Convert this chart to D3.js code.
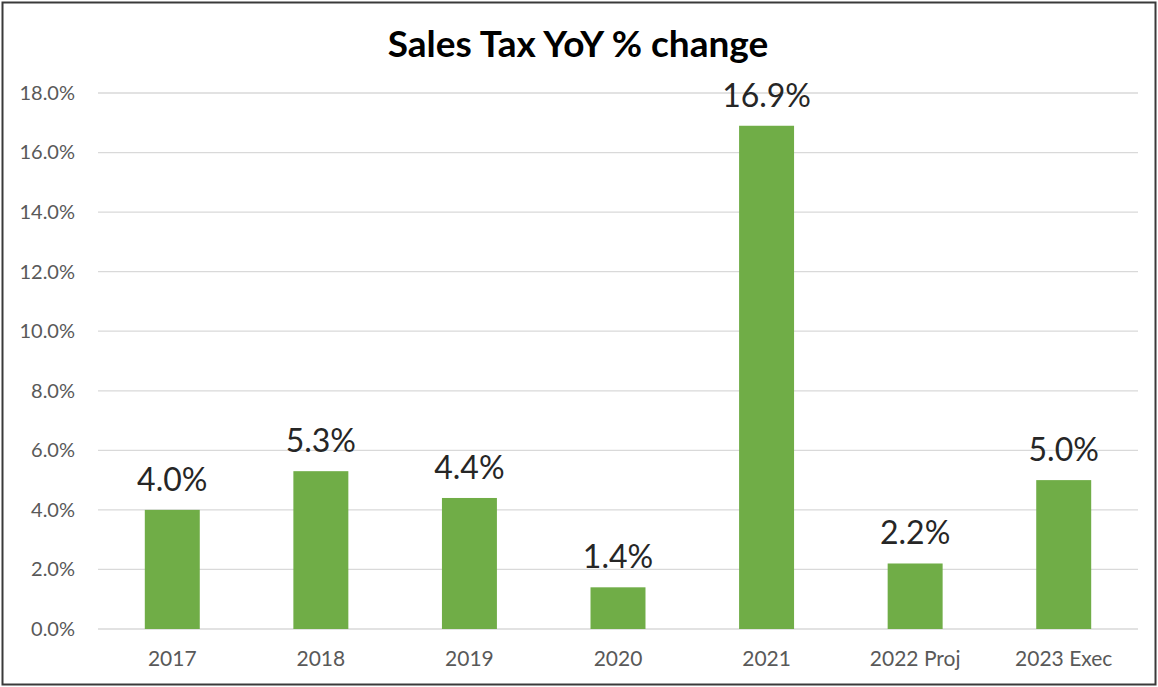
<!DOCTYPE html>
<html>
<head>
<meta charset="utf-8">
<script src="https://cdn.jsdelivr.net/npm/d3@7"></script>
<style>
  body { margin: 0; background: #fff; }
  svg { display: block; }
</style>
</head>
<body>
<script>
// chart data
var categories = ["2017", "2018", "2019", "2020", "2021", "2022 Proj", "2023 Exec"];
var values = [4.0, 5.3, 4.4, 1.4, 16.9, 2.2, 5.0];
var yTicks = [0, 2, 4, 6, 8, 10, 12, 14, 16, 18];

var width = 1158,
    height = 687,
    margin = {top: 93, right: 20, bottom: 58, left: 98};

var svg = d3.select("body")
    .append("svg")
    .attr("width", width)
    .attr("height", height);

// outer frame
svg.append("rect")
    .attr("x", 2.5)
    .attr("y", 2.5)
    .attr("width", width - 5)
    .attr("height", height - 5)
    .attr("fill", "#fff")
    .attr("stroke", "#3a3a3a")
    .attr("stroke-width", 2);

var x = d3.scaleBand()
    .domain(categories)
    .range([margin.left, 1138])
    .paddingInner(0.63)
    .paddingOuter(0.315);

var y = d3.scaleLinear()
    .domain([0, 18])
    .range([629, margin.top]);

// title
svg.append("text")
    .attr("x", 578)
    .attr("y", 57)
    .attr("text-anchor", "middle")
    .attr("font-family", "Lato, 'Open Sans', sans-serif")
    .attr("font-weight", "bold")
    .attr("font-size", "37px")
    .attr("fill", "#000")
    .text("Sales Tax YoY % change");

// gridlines
svg.selectAll("line.grid")
    .data(yTicks)
    .enter()
    .append("line")
    .attr("class", "grid")
    .attr("x1", margin.left)
    .attr("x2", 1138)
    .attr("y1", function(d) { return y(d); })
    .attr("y2", function(d) { return y(d); })
    .attr("stroke", "#d9d9d9")
    .attr("stroke-width", 1.3);

// y axis labels
var yAxis = d3.axisLeft(y)
    .tickValues(yTicks)
    .tickSize(0)
    .tickPadding(23)
    .tickFormat(function(d) { return d3.format(".1f")(d) + "%"; });

var gy = svg.append("g")
    .attr("transform", "translate(" + margin.left + ",0)")
    .call(yAxis);
gy.select(".domain").remove();
gy.selectAll("text")
    .attr("font-family", "Lato, 'Open Sans', sans-serif")
    .attr("font-size", "20px")
    .attr("fill", "#595959");

// x axis labels
var xAxis = d3.axisBottom(x).tickSize(0).tickPadding(22);
var gx = svg.append("g")
    .attr("transform", "translate(0," + y(0) + ")")
    .call(xAxis);
gx.select(".domain").remove();
gx.selectAll("text")
    .attr("font-family", "Lato, 'Open Sans', sans-serif")
    .attr("font-size", "21px")
    .attr("fill", "#595959");

// bars
svg.selectAll("rect.bar")
    .data(values)
    .enter()
    .append("rect")
    .attr("class", "bar")
    .attr("x", function(d, i) { return x(categories[i]); })
    .attr("y", function(d) { return y(d); })
    .attr("width", x.bandwidth())
    .attr("height", function(d) { return y(0) - y(d); })
    .attr("fill", "#70ad47");

// value labels
svg.selectAll("text.val")
    .data(values)
    .enter()
    .append("text")
    .attr("class", "val")
    .attr("text-anchor", "middle")
    .attr("x", function(d, i) { return x(categories[i]) + x.bandwidth() / 2; })
    .attr("y", function(d) { return y(d) - 19; })
    .attr("font-family", "Lato, 'Open Sans', sans-serif")
    .attr("font-size", "32px")
    .attr("fill", "#262626")
    .text(function(d) { return d.toFixed(1) + "%"; });
</script>
</body>
</html>
